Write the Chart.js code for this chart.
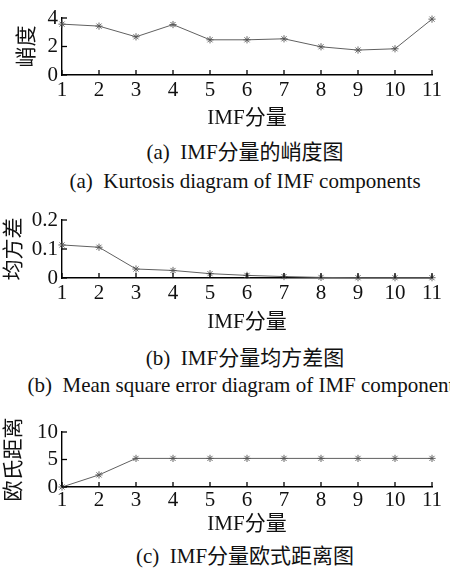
<!DOCTYPE html>
<html>
<head>
<meta charset="utf-8">
<script src="https://cdn.jsdelivr.net/npm/chart.js@4"></script>
<style>
  html, body { margin: 0; padding: 0; background: #fff; }
  body { width: 450px; height: 582px; position: relative; overflow: hidden; }
  .panel { position: absolute; left: 0; width: 450px; }
  .cap {
    position: absolute; left: 245px; transform: translateX(-50%);
    white-space: nowrap; font-family: 'Liberation Serif', 'Noto Sans CJK SC', serif;
    font-size: 21px; line-height: 21px; color: #111;
  }
</style>
</head>
<body>
<div class="panel" style="top:0px;height:130px"><canvas id="cA" width="450" height="130"></canvas></div>
<div class="panel" style="top:200px;height:135px"><canvas id="cB" width="450" height="135"></canvas></div>
<div class="panel" style="top:410px;height:125px"><canvas id="cC" width="450" height="125"></canvas></div>

<div class="cap" style="top:142px">(a)&nbsp;&nbsp;IMF分量的峭度图</div>
<div class="cap" style="top:171px">(a)&nbsp;&nbsp;Kurtosis diagram of IMF components</div>
<div class="cap" style="top:348px">(b)&nbsp;&nbsp;IMF分量均方差图</div>
<div class="cap" style="top:375px">(b)&nbsp;&nbsp;Mean square error diagram of IMF components</div>
<div class="cap" style="top:546px">(c)&nbsp;&nbsp;IMF分量欧式距离图</div>

<script>
// IMF component indices
const components = ['1', '2', '3', '4', '5', '6', '7', '8', '9', '10', '11'];

// Kurtosis of each IMF component
const kurtosis = [3.57, 3.43, 2.68, 3.54, 2.47, 2.47, 2.54, 1.98, 1.75, 1.84, 3.92];
const kurtosisTicks = [0, 2, 4];

// Mean square error of each IMF component
const meanSquare = [0.114, 0.106, 0.031, 0.026, 0.015, 0.009, 0.005, 0.002, 0.001, 0.001, 0.001];
const meanSquareTicks = [0, 0.1, 0.2];

// Euclidean distance of each IMF component
const distance = [0, 2.2, 5.2, 5.2, 5.2, 5.2, 5.2, 5.2, 5.2, 5.2, 5.2];
const distanceTicks = [0, 5, 10];

const xTitle = 'IMF分量';
const FONT = "'Liberation Serif', 'Noto Sans CJK SC', serif";

// Short tick marks pointing into the plot, MATLAB style
const inwardTicks = {
  id: 'inwardTicks',
  afterDatasetsDraw(chart) {
    const { ctx, chartArea, scales: { x, y } } = chart;
    ctx.save();
    ctx.strokeStyle = '#000';
    ctx.lineWidth = 1.3;
    x.ticks.forEach((t, i) => {
      const px = x.getPixelForTick(i);
      ctx.beginPath();
      ctx.moveTo(px, chartArea.bottom);
      ctx.lineTo(px, chartArea.bottom - 5);
      ctx.stroke();
    });
    y.ticks.forEach(t => {
      const py = y.getPixelForValue(t.value);
      ctx.beginPath();
      ctx.moveTo(chartArea.left, py);
      ctx.lineTo(chartArea.left + 5, py);
      ctx.stroke();
    });
    ctx.restore();
  }
};

function makeChart(id, values, yTicks, o) {
  return new Chart(document.getElementById(id), {
    type: 'line',
    data: {
      labels: components,
      datasets: [{
        data: values,
        borderColor: '#606060',
        borderWidth: 1,
        pointStyle: 'star',
        pointRadius: 3.6,
        pointBorderColor: '#555',
        pointBorderWidth: 0.9,
        pointBackgroundColor: '#555',
        tension: 0,
        clip: false
      }]
    },
    options: {
      responsive: false,
      animation: false,
      events: [],
      layout: { padding: { top: o.top, right: 18, left: 0, bottom: 0 } },
      plugins: { legend: { display: false }, tooltip: { enabled: false } },
      scales: {
        x: {
          type: 'category',
          offset: false,
          grid: { display: false, drawTicks: false },
          border: { display: true, color: '#000', width: 1.4 },
          ticks: {
            color: '#111', padding: o.tickPad, maxRotation: 0, autoSkip: false,
            font: { family: FONT, size: 21, lineHeight: 1 }
          },
          title: {
            display: true, text: xTitle, color: '#111',
            padding: { top: 0, bottom: o.titlePad },
            font: { family: FONT, size: 21, lineHeight: 1 }
          },
          afterFit(scale) { scale.height = o.xHeight; }
        },
        y: {
          min: yTicks[0],
          max: yTicks[yTicks.length - 1],
          grid: { display: false, drawTicks: false },
          border: { display: true, color: '#000', width: 1.4 },
          afterBuildTicks(scale) { scale.ticks = yTicks.map(v => ({ value: v })); },
          ticks: {
            color: '#111', padding: 4,
            font: { family: FONT, size: 21, lineHeight: 1 }
          },
          title: {
            display: true, text: o.yTitle, color: '#111',
            padding: { top: o.yTitlePad, bottom: 0 },
            font: { family: FONT, size: 21, lineHeight: 1 }
          },
          afterFit(scale) { scale.width = 62; }
        }
      }
    },
    plugins: [inwardTicks]
  });
}

makeChart('cA', kurtosis, kurtosisTicks,
  { top: 18, xHeight: 55, tickPad: 4.5, titlePad: 1.5, yTitle: '峭度', yTitlePad: 17 });
makeChart('cB', meanSquare, meanSquareTicks,
  { top: 20, xHeight: 57, tickPad: 4.5, titlePad: 2.5, yTitle: '均方差', yTitlePad: 4 });
makeChart('cC', distance, distanceTicks,
  { top: 22, xHeight: 48, tickPad: 2.5, titlePad: 0.5, yTitle: '欧氏距离', yTitlePad: 4 });
</script>
</body>
</html>
